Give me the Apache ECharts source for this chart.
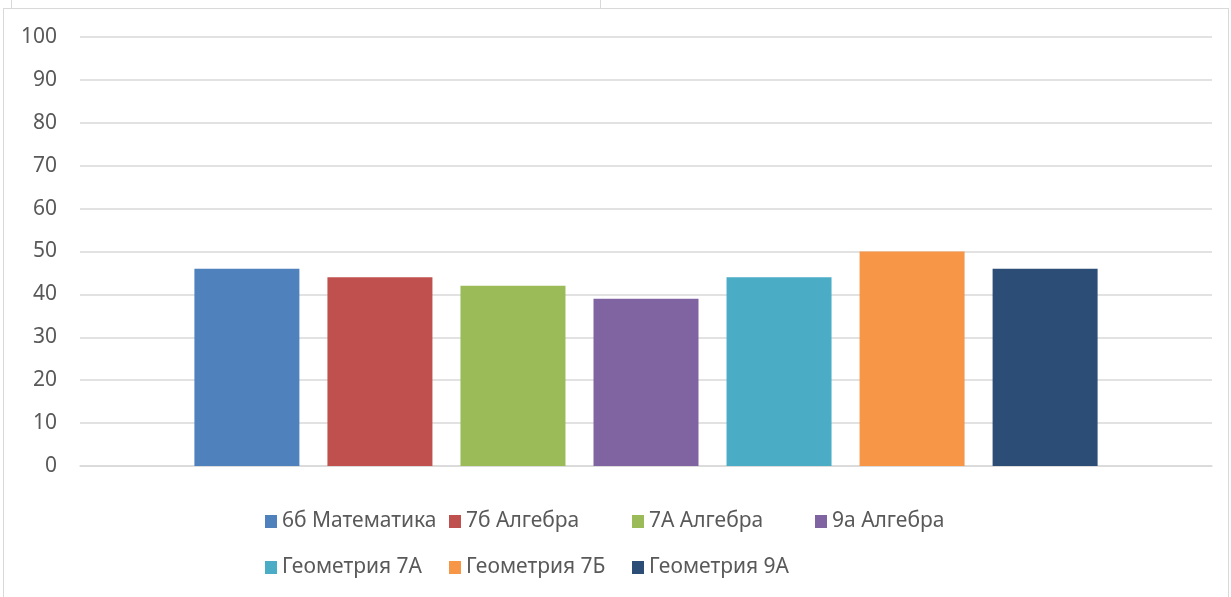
<!DOCTYPE html>
<html>
<head>
<meta charset="utf-8">
<script src="https://cdn.jsdelivr.net/npm/echarts@6/dist/echarts.min.js"></script>
<style>
  html, body { margin: 0; padding: 0; background: #fff; }
  #wrap { position: relative; width: 1231px; height: 597px; overflow: hidden; }
  .frame { position: absolute; left: 3px; top: 8px; width: 1224px; height: 600px; border: 1px solid #d9d9d9; }
  .vline { position: absolute; top: 0; height: 8px; width: 1px; background: #d9d9d9; }
  #chart { position: absolute; left: 0; top: 0; width: 1231px; height: 597px; }
</style>
</head>
<body>
<div id="wrap">
  <div class="frame"></div>
  <div class="vline" style="left:11px"></div>
  <div class="vline" style="left:600px"></div>
  <div id="chart"></div>
</div>
<script>
const seriesNames = ['6б Математика', '7б Алгебра', '7А Алгебра', '9а Алгебра', 'Геометрия 7А', 'Геометрия 7Б', 'Геометрия 9А']
const seriesValues = [46, 44, 42, 39, 44, 50, 46]
const colors = ['#4f81bd', '#c0504d', '#9bbb59', '#8064a2', '#4bacc6', '#f79646', '#2c4d75']
const yTicks = { min: 0, max: 100, interval: 10 }

// legend sits in a 4-column grid, like the office chart
const legendLefts = [265, 449, 632, 815]
const legendTops = [511, 557]

const chart = echarts.init(document.getElementById('chart'))
const font = "'Noto Sans', 'Open Sans', sans-serif"

function legendItem(name, i) {
  return {
    data: [name],
    left: legendLefts[i % 4],
    top: legendTops[Math.floor(i / 4)],
    padding: 0,
    itemWidth: 12,
    itemHeight: 13,
    itemGap: 0,
    icon: 'rect',
    textStyle: { color: '#595959', fontSize: 21, fontFamily: font },
    selectedMode: false,
  }
}

chart.setOption({
  animation: false,
  color: colors,
  grid: { left: 80, right: 19, top: 37, bottom: 131, containLabel: false },
  legend: seriesNames.map(legendItem),
  xAxis: {
    type: 'category',
    data: [''],
    axisLine: { lineStyle: { color: '#d9d9d9', width: 1.5 } },
    axisTick: { show: false },
    axisLabel: { show: false },
  },
  yAxis: {
    type: 'value',
    min: yTicks.min,
    max: yTicks.max,
    interval: yTicks.interval,
    axisLine: { show: false },
    axisTick: { show: false },
    axisLabel: { color: '#595959', fontSize: 21, fontFamily: font, margin: 23 },
    splitLine: { lineStyle: { color: '#d9d9d9', width: 1.5 } },
  },
  series: seriesNames.map((name, i) => ({
    name,
    type: 'bar',
    barWidth: 105,
    barGap: '26.7%',
    data: [seriesValues[i]],
  })),
})
</script>
</body>
</html>
